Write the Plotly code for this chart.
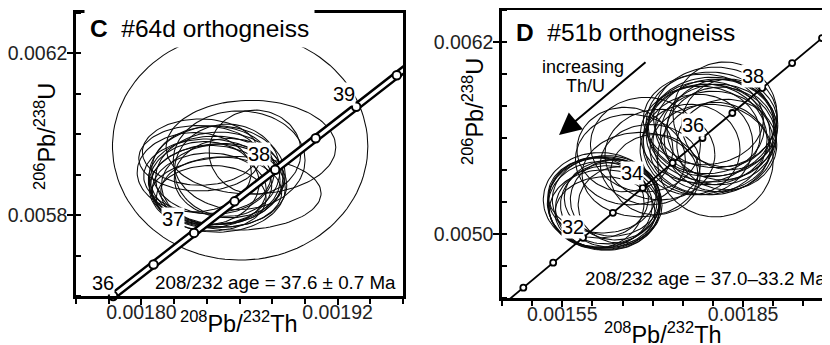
import numpy as np
import plotly.graph_objects as go

# ---------------- data: panel C (#64d) ----------------
C_ELL_CX = [0.0018604, 0.001867, 0.0018695, 0.001836, 0.001858, 0.0018445, 0.0018427, 0.0018476,
            0.0018415, 0.0018506, 0.0018464, 0.0018384, 0.0018488, 0.0018439, 0.0018537, 0.0018403,
            0.0018464, 0.0018354, 0.0018525, 0.0018427, 0.0018598, 0.0018323]
C_ELL_CY = [0.0059704, 0.005968, 0.005956, 0.005956, 0.005854, 0.0058865, 0.0058741, 0.0058914,
            0.0058618, 0.0058741, 0.0058988, 0.005879, 0.0058568, 0.0059111, 0.0058914, 0.0058963,
            0.0058667, 0.0059408, 0.0059111, 0.005842, 0.0059358, 0.0059062]
C_ELL_RX = [7.81e-5, 5.19e-5, 2.81e-5, 3.54e-5, 5.19e-5, 4.03e-5, 3.70e-5, 3.89e-5,
            3.49e-5, 3.83e-5, 4.16e-5, 3.36e-5, 3.70e-5, 3.76e-5, 3.36e-5, 3.89e-5,
            4.16e-5, 3.70e-5, 3.22e-5, 3.36e-5, 4.03e-5, 3.49e-5]
C_ELL_RY = [2.816e-4, 1.16e-4, 1.04e-4, 8.2e-5, 9.1e-5, 1.09e-4, 9.8e-5, 1.14e-4,
            9.2e-5, 1.03e-4, 1.22e-4, 1.03e-4, 8.7e-5, 1.09e-4, 9.8e-5, 9.2e-5,
            1.09e-4, 8.1e-5, 1.14e-4, 8.1e-5, 1.22e-4, 9.8e-5]

# concordia (Ma, 208Pb/232Th, 206Pb/238U)
C_CONC_AGE = [36, 36.5, 37, 37.5, 38, 38.5, 39, 39.5, 40]
C_CONC_X = [0.0017827, 0.0018074, 0.0018322, 0.0018570, 0.0018818, 0.0019066, 0.0019314, 0.0019562, 0.0019810]
C_CONC_Y = [0.0056001, 0.0056781, 0.0057561, 0.0058341, 0.0059122, 0.0059902, 0.0060682, 0.0061462, 0.0062243]
C_MARK_AGES = [36, 36.5, 37, 37.5, 38, 38.5, 39, 39.5]
C_LABEL_AGES = [36, 37, 38, 39]

C_TITLE = "#64d orthogneiss"
C_AGE_TEXT = "208/232 age = 37.6 ± 0.7 Ma"
C_XTICKS = [0.00180, 0.00192]
C_XTICKTEXT = ["0.00180", "0.00192"]
C_YTICKS = [0.0058, 0.0062]
C_YTICKTEXT = ["0.0058", "0.0062"]

# ---------------- data: panel D (#51b) ----------------
D_ELL_CX = [0.001618, 0.001613, 0.001623, 0.00161, 0.00163, 0.00162, 0.001606, 0.001633,
            0.001616, 0.001625, 0.001638, 0.001613, 0.001621, 0.001646,
            0.001688, 0.001663, 0.001696, 0.001654, 0.001712, 0.001679, 0.001704,
            0.001799, 0.001792, 0.001804, 0.001787, 0.001809, 0.001795, 0.001779, 0.001815,
            0.0018, 0.001789, 0.001812, 0.001804, 0.00182, 0.001795, 0.001775, 0.001828,
            0.001804, 0.001784, 0.001762, 0.001823]
D_ELL_CY = [0.005195, 0.005182, 0.005214, 0.005226, 0.005182, 0.005151, 0.005195, 0.005226,
            0.005245, 0.005163, 0.005214, 0.005214, 0.005132, 0.005182,
            0.005559, 0.005465, 0.005434, 0.005528, 0.005496, 0.005371, 0.005371,
            0.005653, 0.005622, 0.005666, 0.005591, 0.005622, 0.005685, 0.005622, 0.005653,
            0.005578, 0.005666, 0.005591, 0.005729, 0.005748, 0.005528, 0.005559, 0.005685,
            0.005465, 0.005716, 0.005528, 0.005559]
D_ELL_RX = [9.28e-5, 8.62e-5, 8.95e-5, 8.29e-5, 8.29e-5, 9.12e-5, 7.96e-5, 7.96e-5,
            8.95e-5, 8.62e-5, 7.46e-5, 9.45e-5, 8.29e-5, 6.96e-5,
            9.12e-5, 9.12e-5, 8.29e-5, 7.96e-5, 9.12e-5, 9.61e-5, 7.46e-5,
            1.077e-4, 1.028e-4, 9.95e-5, 1.028e-4, 9.61e-5, 1.061e-4, 9.95e-5, 9.12e-5,
            9.95e-5, 9.61e-5, 9.28e-5, 1.028e-4, 8.62e-5, 9.95e-5, 9.12e-5, 7.96e-5,
            9.61e-5, 9.95e-5, 8.29e-5, 8.29e-5]
D_ELL_RY = [2.83e-4, 2.70e-4, 2.76e-4, 2.51e-4, 2.64e-4, 2.51e-4, 2.83e-4, 2.39e-4,
            2.39e-4, 2.64e-4, 2.51e-4, 2.95e-4, 2.26e-4, 2.39e-4,
            2.95e-4, 2.83e-4, 2.51e-4, 2.64e-4, 2.83e-4, 2.64e-4, 2.51e-4,
            3.27e-4, 3.14e-4, 3.02e-4, 3.46e-4, 3.14e-4, 3.27e-4, 3.02e-4, 3.14e-4,
            3.14e-4, 2.89e-4, 3.27e-4, 3.14e-4, 3.27e-4, 2.83e-4, 3.14e-4, 2.83e-4,
            3.58e-4, 2.83e-4, 2.83e-4, 2.83e-4]

D_CONC_AGE = [29, 30, 31, 32, 33, 34, 35, 36, 37, 38, 39, 40, 41]
D_CONC_X = [0.0014358, 0.0014854, 0.0015349, 0.0015845, 0.0016340, 0.0016836, 0.0017331,
            0.0017827, 0.0018322, 0.0018818, 0.0019314, 0.0019810, 0.0020305]
D_CONC_Y = [0.0045088, 0.0046646, 0.0048205, 0.0049763, 0.0051323, 0.0052882, 0.0054441,
            0.0056001, 0.0057561, 0.0059122, 0.0060682, 0.0062243, 0.0063804]
D_MARK_AGES = [30, 31, 32, 33, 34, 35, 36, 37, 38, 39, 40]
D_LABEL_AGES = [32, 34, 36, 38]

D_TITLE = "#51b orthogneiss"
D_AGE_TEXT = "208/232 age = 37.0–33.2 Ma"
D_XTICKS = [0.00155, 0.00185]
D_XTICKTEXT = ["0.00155", "0.00185"]
D_YTICKS = [0.0050, 0.0062]
D_YTICKTEXT = ["0.0050", "0.0062"]

X_TITLE = "<sup>208</sup>Pb/<sup>232</sup>Th"
Y_TITLE = "<sup>206</sup>Pb/<sup>238</sup>U"

# ---------------- figure ----------------
W, H = 830, 345
OFF = 8  # page body margin offset
FONT = "Liberation Sans, Arial, Helvetica, sans-serif"


def px(x):
    return (x - OFF) / W


def py(y):
    return 1 - (y - OFF) / H


def ellipse_path(cxs, cys, rxs, rys, n=120):
    t = np.linspace(0, 2 * np.pi, n)
    xs, ys = [], []
    for cx, cy, rx, ry in zip(cxs, cys, rxs, rys):
        xs += list(cx + rx * np.cos(t)) + [None]
        ys += list(cy + ry * np.sin(t)) + [None]
    return xs, ys


fig = go.Figure()

# ellipses
for (cxs, cys, rxs, rys, xa, ya) in [(C_ELL_CX, C_ELL_CY, C_ELL_RX, C_ELL_RY, "x", "y"),
                                      (D_ELL_CX, D_ELL_CY, D_ELL_RX, D_ELL_RY, "x2", "y2")]:
    ex, ey = ellipse_path(cxs, cys, rxs, rys)
    fig.add_trace(go.Scatter(x=ex, y=ey, mode="lines", xaxis=xa, yaxis=ya,
                             line=dict(color="#0a0a0a", width=1.05), hoverinfo="skip"))

# panel C concordia band (white filled, two parallel lines)
BAND = 2.9e-6
bx = [v - BAND for v in C_CONC_X] + [v + BAND for v in C_CONC_X[::-1]] + [C_CONC_X[0] - BAND]
by = list(C_CONC_Y) + list(C_CONC_Y[::-1]) + [C_CONC_Y[0]]
fig.add_trace(go.Scatter(x=bx, y=by, mode="lines", fill="toself", fillcolor="white",
                         line=dict(color="black", width=2.4), xaxis="x", yaxis="y", hoverinfo="skip"))
cm_x = [C_CONC_X[C_CONC_AGE.index(a)] for a in C_MARK_AGES]
cm_y = [C_CONC_Y[C_CONC_AGE.index(a)] for a in C_MARK_AGES]
fig.add_trace(go.Scatter(x=cm_x, y=cm_y, mode="markers", xaxis="x", yaxis="y", cliponaxis=False,
                         marker=dict(symbol="circle", size=8.5, color="white",
                                     line=dict(color="black", width=2)), hoverinfo="skip"))

# panel D concordia
fig.add_trace(go.Scatter(x=D_CONC_X, y=D_CONC_Y, mode="lines", xaxis="x2", yaxis="y2",
                         line=dict(color="black", width=1.8), hoverinfo="skip"))
dm_x = [D_CONC_X[D_CONC_AGE.index(a)] for a in D_MARK_AGES]
dm_y = [D_CONC_Y[D_CONC_AGE.index(a)] for a in D_MARK_AGES]
fig.add_trace(go.Scatter(x=dm_x, y=dm_y, mode="markers", xaxis="x2", yaxis="y2",
                         marker=dict(symbol="circle", size=6, color="white",
                                     line=dict(color="black", width=1.8)), hoverinfo="skip"))

ann = []
lab_font = dict(family=FONT, size=20, color="black")
# age labels
c_shift = {36: (-10, 13), 37: (-21, 14), 38: (-16, 16), 39: (-12, 13)}
for a in C_LABEL_AGES:
    i = C_CONC_AGE.index(a)
    sx, sy = c_shift[a]
    ann.append(dict(x=C_CONC_X[i], y=C_CONC_Y[i], xref="x", yref="y", text=str(a), showarrow=False,
                    xanchor="center", yanchor="middle",
                    font=lab_font, bgcolor="white", borderpad=0, xshift=sx, yshift=sy))
d_shift = {32: (-10, 11), 34: (-11, 15), 36: (-10, 13), 38: (-9, 12)}
for a in D_LABEL_AGES:
    i = D_CONC_AGE.index(a)
    sx, sy = d_shift[a]
    ann.append(dict(x=D_CONC_X[i], y=D_CONC_Y[i], xref="x2", yref="y2", text=str(a), showarrow=False,
                    xanchor="center", yanchor="middle",
                    font=lab_font, bgcolor="white", borderpad=0, xshift=sx, yshift=sy))

# titles
ann.append(dict(x=px(84), y=py(29), xref="paper", yref="paper", xanchor="left", yanchor="middle",
                text="<b>C</b>  " + C_TITLE, showarrow=False, bgcolor="white", borderpad=5,
                font=dict(family=FONT, size=24.5, color="black")))
ann.append(dict(x=px(513), y=py(32), xref="paper", yref="paper", xanchor="left", yanchor="middle",
                text="<b>D</b>  " + D_TITLE, showarrow=False, bgcolor="white", borderpad=2,
                font=dict(family=FONT, size=24.5, color="black")))
# age text
ann.append(dict(x=px(398), y=py(282), xref="paper", yref="paper", xanchor="right", yanchor="middle",
                text=C_AGE_TEXT, showarrow=False, font=dict(family=FONT, size=18.8, color="black")))
ann.append(dict(x=px(828), y=py(278), xref="paper", yref="paper", xanchor="right", yanchor="middle",
                text=D_AGE_TEXT, showarrow=False, font=dict(family=FONT, size=18.8, color="black")))
# axis titles
ann.append(dict(x=px(239), y=py(322), xref="paper", yref="paper", xanchor="center", yanchor="middle",
                text=X_TITLE, showarrow=False, font=dict(family=FONT, size=23.5, color="black")))
ann.append(dict(x=px(663), y=py(333), xref="paper", yref="paper", xanchor="center", yanchor="middle",
                text=X_TITLE, showarrow=False, font=dict(family=FONT, size=23.5, color="black")))
ann.append(dict(x=px(45), y=py(137), xref="paper", yref="paper", xanchor="center", yanchor="middle",
                text=Y_TITLE, showarrow=False, textangle=-90, font=dict(family=FONT, size=23.5, color="black")))
ann.append(dict(x=px(473), y=py(112), xref="paper", yref="paper", xanchor="center", yanchor="middle",
                text=Y_TITLE, showarrow=False, textangle=-90, font=dict(family=FONT, size=23.5, color="black")))
# increasing Th/U
ann.append(dict(x=px(583), y=py(67), xref="paper", yref="paper", xanchor="center", yanchor="middle",
                text="increasing", showarrow=False, font=dict(family=FONT, size=18, color="black")))
ann.append(dict(x=px(585), y=py(86), xref="paper", yref="paper", xanchor="center", yanchor="middle",
                text="Th/U", showarrow=False, font=dict(family=FONT, size=18, color="black")))
ann.append(dict(x=px(559), y=py(135), xref="paper", yref="paper", text="", showarrow=True,
                ax=88, ay=-74, arrowhead=2, arrowsize=2.2, arrowwidth=2, arrowcolor="black"))

axis_common = dict(showline=True, linecolor="black", linewidth=2.5, showgrid=False, zeroline=False,
                   ticks="outside", ticklen=6, tickwidth=2, tickcolor="black",
                   tickfont=dict(family=FONT, size=19.5, color="#222"))

fig.update_layout(
    width=W, height=H, margin=dict(l=0, r=0, t=0, b=0),
    paper_bgcolor="white", plot_bgcolor="white", showlegend=False,
    xaxis=dict(domain=[px(76), px(403)], range=[0.00176, 0.00196], anchor="y", mirror=True,
               tickvals=C_XTICKS, ticktext=C_XTICKTEXT, ticklabelstandoff=-9,
               minor=dict(dtick=0.00002, tick0=0.00176, ticks="outside", ticklen=5, tickwidth=1.5,
                          tickcolor="black"), **axis_common),
    yaxis=dict(domain=[py(296), py(13)], range=[0.0056, 0.0063], anchor="x", mirror=True,
               tickvals=C_YTICKS, ticktext=C_YTICKTEXT, ticklabelstandoff=-4,
               minor=dict(dtick=0.0001, tick0=0.0056, ticks="inside", ticklen=5, tickwidth=1.5,
                          tickcolor="black"), **axis_common),
    xaxis2=dict(domain=[px(502), 1.0], range=[0.00145, 0.0020075], anchor="y2", mirror=True,
                tickvals=D_XTICKS, ticktext=D_XTICKTEXT, ticklabelstandoff=-9,
                minor=dict(dtick=0.00005, tick0=0.00145, ticks="outside", ticklen=5, tickwidth=1.5,
                           tickcolor="black"), **axis_common),
    yaxis2=dict(domain=[py(298), py(10)], range=[0.0046, 0.0064], anchor="x2", mirror=False,
                tickvals=D_YTICKS, ticktext=D_YTICKTEXT, ticklabelstandoff=-4,
                minor=dict(dtick=0.0002, tick0=0.0046, ticks="inside", ticklen=5, tickwidth=1.5,
                           tickcolor="black"), **axis_common),
    annotations=ann,
)

fig.write_html("out.html")
